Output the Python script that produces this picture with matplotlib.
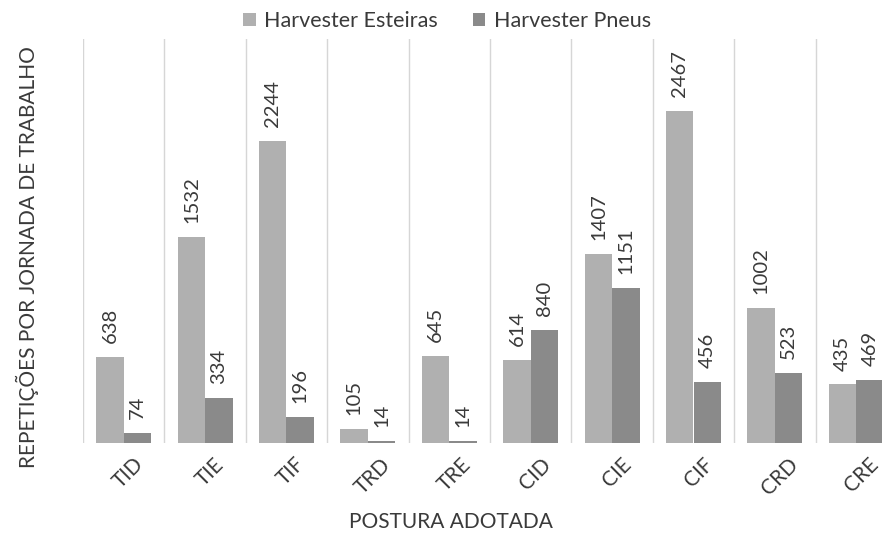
import matplotlib
matplotlib.use("Agg")
import matplotlib.pyplot as plt
import matplotlib.transforms as mtransforms
import numpy as np

categories = ["TID", "TIE", "TIF", "TRD", "TRE", "CID", "CIE", "CIF", "CRD", "CRE"]
esteiras = [638, 1532, 2244, 105, 645, 614, 1407, 2467, 1002, 435]
pneus = [74, 334, 196, 14, 14, 840, 1151, 456, 523, 469]
series_names = ["Harvester Esteiras", "Harvester Pneus"]

plt.rcParams['font.family'] = ['Lato', 'DejaVu Sans']
txt = '#3a3a3a'

fig = plt.figure(figsize=(8.82, 5.43), dpi=100)
ax = fig.add_axes([83/882, 1-443/543, 814/882, 404/543])

x = np.arange(len(categories))
w = 0.337
c1, c2 = '#b0b0b0', '#8a8a8a'
b1 = ax.bar(x - w/2, esteiras, w, color=c1, label=series_names[0])
b2 = ax.bar(x + w/2, pneus, w, color=c2, label=series_names[1])

for bars, vals in ((b1, esteiras), (b2, pneus)):
    for r, v in zip(bars, vals):
        ax.annotate(str(v), (r.get_x() + r.get_width()/2, v), xytext=(0, 10),
                    textcoords='offset points', rotation=90, ha='center', va='bottom',
                    fontsize=14.5, color=txt)

ax.set_xlim(-0.5, len(categories) - 0.5)
ax.set_ylim(0, 3000)
for b in np.arange(-0.5, len(categories) + 0.5, 1):
    ax.axvline(b, color='#d6d6d6', lw=1.0, zorder=0)

ax.set_xticks(x)
ax.set_xticklabels(categories, rotation=45, ha='center', va='top', fontsize=15, color=txt)
ax.tick_params(axis='x', length=0, pad=8)
offset = mtransforms.ScaledTranslation(5/100, 0, fig.dpi_scale_trans)
for lab in ax.get_xticklabels():
    lab.set_transform(lab.get_transform() + offset)
ax.set_yticks([])
for s in ax.spines.values():
    s.set_visible(False)

fig.text(451/882, 1-522/543, "POSTURA ADOTADA", ha='center', va='center', fontsize=15, color=txt)
fig.text(27/882, 1-257/543, "REPETIÇÕES POR JORNADA DE TRABALHO", ha='center', va='center',
         rotation=90, fontsize=15, color=txt)

fig.legend(loc='center', bbox_to_anchor=(447/882, 1-21/543), ncol=2, frameon=False,
           fontsize=15.5, handlelength=0.6, handleheight=0.6, handletextpad=0.4,
           columnspacing=1.6, labelcolor=txt)

fig.savefig("out.png", dpi=100)
